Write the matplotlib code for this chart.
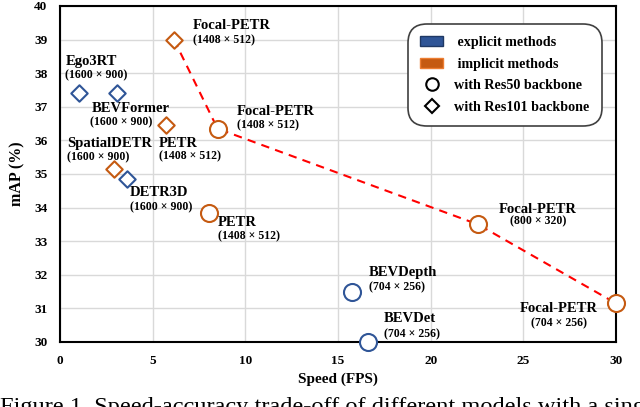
import matplotlib.pyplot as plt
from matplotlib.patches import Patch
from matplotlib.lines import Line2D

plt.rcParams['font.family'] = ['Liberation Serif', 'DejaVu Serif']

names = ['Ego3RT', 'BEVFormer', 'SpatialDETR', 'PETR', 'DETR3D', 'Focal-PETR',
         'Focal-PETR', 'PETR', 'Focal-PETR', 'BEVDepth', 'BEVDet', 'Focal-PETR']
res = ['(1600 × 900)', '(1600 × 900)', '(1600 × 900)', '(1408 × 512)', '(1600 × 900)',
       '(1408 × 512)', '(1408 × 512)', '(1408 × 512)', '(800 × 320)', '(704 × 256)',
       '(704 × 256)', '(704 × 256)']
fps = [1.0, 3.1, 2.9, 5.7, 3.6, 6.15, 8.5, 8.05, 22.55, 15.75, 16.6, 30.0]
mAP = [37.4, 37.4, 35.15, 36.45, 34.85, 39.0, 36.35, 33.85, 33.5, 31.5, 30.0, 31.15]
kind = ['explicit', 'explicit', 'implicit', 'implicit', 'explicit', 'implicit',
        'implicit', 'implicit', 'implicit', 'explicit', 'explicit', 'implicit']
backbone = ['Res101', 'Res101', 'Res101', 'Res101', 'Res101', 'Res101',
            'Res50', 'Res50', 'Res50', 'Res50', 'Res50', 'Res50']

# label offsets in pixels (name, resolution), alignment
offs = [((-13, 32), (-14, 18), 'left'),
        ((-26, -15), (-27, -29), 'left'),
        ((-47, 25), (-47, 12), 'left'),
        ((-7, -18), (-7, -31), 'left'),
        ((3, -13), (3, -28), 'left'),
        ((19, 14), (19, -1), 'left'),
        ((19, 17), (19, 3), 'left'),
        ((9, -10), (9, -24), 'left'),
        ((60, 15), (60, 3), 'center'),
        ((17, 19), (17, 4), 'left'),
        ((16, 23), (16, 8), 'left'),
        ((-57, -5), (-57, -20), 'center')]

colors = {'explicit': '#2F5597', 'implicit': '#C55A11'}
markers = {'Res50': 'o', 'Res101': 'D'}
sizes = {'Res50': 150, 'Res101': 70}

fig = plt.figure(figsize=(6.4, 4.07), dpi=100)
ax = fig.add_axes([60/640, 1-342/407, 556/640, 336/407])

focal = [(f, m) for n, f, m in zip(names, fps, mAP) if n == 'Focal-PETR']
focal.sort()
ax.plot([p[0] for p in focal], [p[1] for p in focal], '--', color='#FF0000',
        lw=1.5, dashes=(4, 3), zorder=2)

for i in range(len(names)):
    ax.scatter(fps[i], mAP[i], s=sizes[backbone[i]], marker=markers[backbone[i]],
               facecolor='white', edgecolor=colors[kind[i]], linewidth=1.5,
               zorder=3, clip_on=False)
    (n_off, r_off, ha) = offs[i]
    ax.annotate(names[i], (fps[i], mAP[i]), xytext=n_off, textcoords='offset pixels',
                ha=ha, va='center', fontsize=10.5, fontweight='bold')
    ax.annotate(res[i], (fps[i], mAP[i]), xytext=r_off, textcoords='offset pixels',
                ha=ha, va='center', fontsize=8.5, fontweight='bold')

ax.set_xlim(0, 30)
ax.set_ylim(30, 40)
ax.set_xticks(range(0, 31, 5))
ax.set_yticks(range(30, 41))
ax.grid(True, color='#D9D9D9', lw=1)
ax.set_axisbelow(True)
ax.tick_params(length=0, labelsize=9.5, pad=9)
for lab in ax.get_xticklabels() + ax.get_yticklabels():
    lab.set_fontweight('bold')
for sp in ax.spines.values():
    sp.set_linewidth(1.5)
ax.set_xlabel('Speed (FPS)', fontsize=11, fontweight='bold', labelpad=4)
ax.set_ylabel('mAP (%)', fontsize=11.5, fontweight='bold', labelpad=6)

handles = [Patch(facecolor=colors['explicit'], edgecolor='#1F3864', label=' explicit methods'),
           Patch(facecolor=colors['implicit'], edgecolor='#ED7D31', label=' implicit methods'),
           Line2D([], [], marker='o', color='black', ls='', mfc='white', mew=1.5, ms=9,
                  label='with Res50 backbone'),
           Line2D([], [], marker='D', color='black', ls='', mfc='white', mew=1.5, ms=7,
                  label='with Res101 backbone')]
leg = ax.legend(handles=handles, loc='upper right', bbox_to_anchor=(0.982, 0.958),
                prop={'weight': 'bold', 'size': 10.2}, fancybox=True, framealpha=1,
                edgecolor='#404040', handlelength=1.6, labelspacing=0.6,
                borderpad=0.65, handletextpad=0.8)
leg.get_frame().set_linewidth(1.2)
leg.get_frame().set_boxstyle('round,pad=0.2,rounding_size=1.3')

fig.text(0.0, -6/407, 'Figure 1. Speed-accuracy trade-off of different models with a single',
         fontsize=17.6, va='baseline', ha='left')

fig.savefig('out.png', dpi=100)
